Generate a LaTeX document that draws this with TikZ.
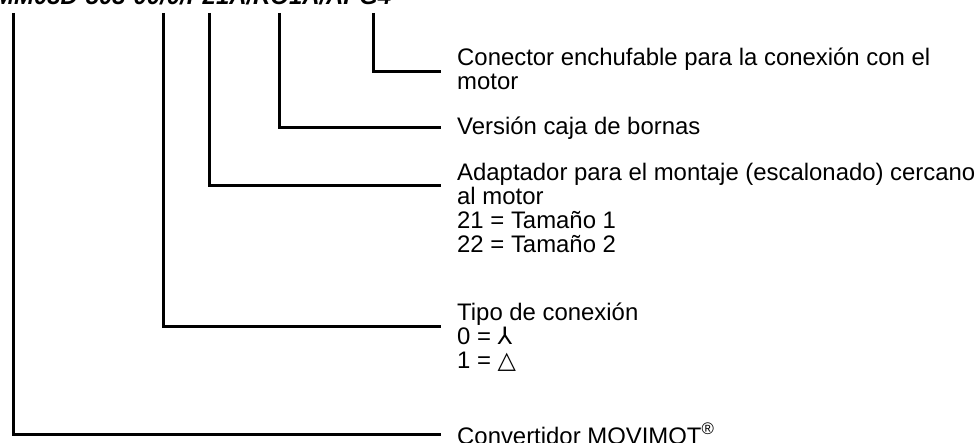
\documentclass[tikz,border=0pt]{standalone}
\usepackage{fontspec}
\setmainfont{Liberation Sans}
\newfontfamily\symfont{DejaVu Sans}
\begin{document}
\begin{tikzpicture}[x=1pt,y=-1pt,
  conn/.style={line width=3pt},
  lbl/.style={anchor=base west, inner sep=0pt, align=left, font=\fontsize{23.9}{24}\selectfont},
  codefont/.style={anchor=base west, inner sep=0pt, font=\fontsize{23.9}{24}\selectfont\bfseries\itshape}
]
\useasboundingbox (0,0) rectangle (977,443);
\node[codefont] (code) at (-6,5) {MM03D-503-00/0/P21A/RO1A/APG4};

% multi-line nodes: base anchor = baseline of the last line
\node[lbl] (l5) at (457,90) {Conector enchufable para la conexión con el\\motor};
\node[lbl] (l4) at (457,135) {Versión caja de bornas};
\node[lbl] (l3) at (457,253) {Adaptador para el montaje (escalonado) cercano\\al motor\\21 = Tamaño 1\\22 = Tamaño 2};
\node[lbl] (l2) at (457,369) {Tipo de conexión\\0 = {\symfont ⅄}\\1 = {\symfont △}};
\node[lbl] (l1) at (457,444) {Convertidor MOVIMOT\textsuperscript{®}};

\coordinate (t1) at (13,13);
\coordinate (t2) at (163,13);
\coordinate (t3) at (209,13);
\coordinate (t4) at (279,13);
\coordinate (t5) at (373,13);
\coordinate (e1) at (441,434);
\coordinate (e2) at (441,327);
\coordinate (e3) at (441,186);
\coordinate (e4) at (441,128);
\coordinate (e5) at (441,72);

\draw[conn] (t1) |- (e1);
\draw[conn] (t2) |- (e2);
\draw[conn] (t3) |- (e3);
\draw[conn] (t4) |- (e4);
\draw[conn] (t5) |- (e5);
\end{tikzpicture}
\end{document}
